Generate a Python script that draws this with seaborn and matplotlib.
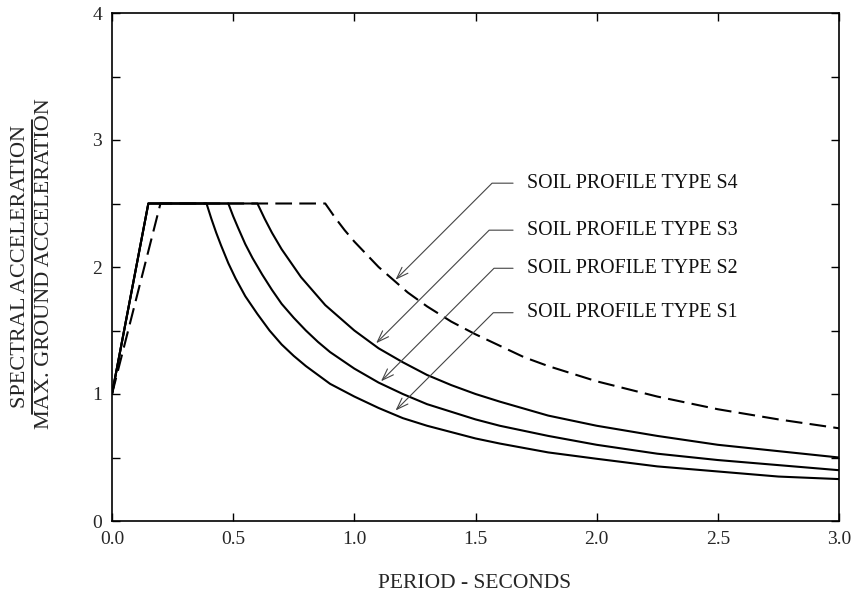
import matplotlib
matplotlib.use("Agg")
import matplotlib.pyplot as plt
import seaborn as sns
import pandas as pd
from matplotlib.lines import Line2D
from matplotlib.ticker import MultipleLocator

# Spectral shapes (period in s, normalised spectral acceleration)
t_s1 = [0.0, 0.15, 0.39, 0.41, 0.43, 0.45, 0.48, 0.51, 0.55, 0.60, 0.65, 0.70, 0.75, 0.80, 0.85, 0.90,
        1.00, 1.10, 1.20, 1.30, 1.40, 1.50, 1.60, 1.80, 2.00, 2.25, 2.50, 2.75, 3.00]
sa_s1 = [1.00, 2.50, 2.50, 2.38, 2.27, 2.17, 2.03, 1.91, 1.77, 1.63, 1.50, 1.39, 1.30, 1.22, 1.15, 1.08,
         0.98, 0.89, 0.81, 0.75, 0.70, 0.65, 0.61, 0.54, 0.49, 0.43, 0.39, 0.35, 0.33]

t_s2 = [0.0, 0.15, 0.48, 0.50, 0.52, 0.55, 0.58, 0.62, 0.66, 0.70, 0.75, 0.80, 0.85, 0.90,
        1.00, 1.10, 1.20, 1.30, 1.40, 1.50, 1.60, 1.80, 2.00, 2.25, 2.50, 2.75, 3.00]
sa_s2 = [1.00, 2.50, 2.50, 2.40, 2.31, 2.18, 2.07, 1.94, 1.82, 1.71, 1.60, 1.50, 1.41, 1.33,
         1.20, 1.09, 1.00, 0.92, 0.86, 0.80, 0.75, 0.67, 0.60, 0.53, 0.48, 0.44, 0.40]

t_s3 = [0.0, 0.15, 0.60, 0.63, 0.66, 0.70, 0.74, 0.78, 0.83, 0.88, 0.94, 1.00, 1.10, 1.20, 1.30,
        1.40, 1.50, 1.60, 1.80, 2.00, 2.25, 2.50, 2.75, 3.00]
sa_s3 = [1.00, 2.50, 2.50, 2.38, 2.27, 2.14, 2.03, 1.92, 1.81, 1.70, 1.60, 1.50, 1.36, 1.25, 1.15,
         1.07, 1.00, 0.94, 0.83, 0.75, 0.67, 0.60, 0.55, 0.50]

t_s4 = [0.0, 0.20, 0.88, 0.92, 0.96, 1.00, 1.05, 1.10, 1.16, 1.22, 1.30, 1.40, 1.50, 1.60, 1.70,
        1.80, 2.00, 2.25, 2.50, 2.75, 3.00]
sa_s4 = [1.00, 2.50, 2.50, 2.39, 2.29, 2.20, 2.10, 2.00, 1.90, 1.80, 1.69, 1.57, 1.47, 1.38, 1.29,
         1.22, 1.10, 0.98, 0.88, 0.80, 0.73]

# callouts: label, label height, arrow tip on the curve
labels = ["SOIL PROFILE TYPE S4", "SOIL PROFILE TYPE S3", "SOIL PROFILE TYPE S2", "SOIL PROFILE TYPE S1"]
label_y = [2.66, 2.29, 1.99, 1.64]
tip_x = [1.17, 1.09, 1.11, 1.17]
tip_y = [1.90, 1.40, 1.10, 0.87]

sns.set_theme(style="ticks")
plt.rcParams["font.family"] = ["Liberation Serif", "DejaVu Serif"]

fig = plt.figure(figsize=(8.51, 5.96), dpi=100, facecolor="white")
ax = fig.add_axes([112 / 851, 75 / 596, 727 / 851, 508 / 596])

curvas = [(t_s1, sa_s1, "S1"), (t_s2, sa_s2, "S2"), (t_s3, sa_s3, "S3"), (t_s4, sa_s4, "S4")]
for t, sa, nome in curvas:
    df = pd.DataFrame({"periodo": t, "sa": sa})
    linha = dict(dashes=(8, 3.5)) if nome == "S4" else {}
    sns.lineplot(data=df, x="periodo", y="sa", color="black", linewidth=1.5,
                 estimator=None, ax=ax, **linha)

for txt, ly, tx, ty in zip(labels, label_y, tip_x, tip_y):
    ax.annotate("", xy=(tx, ty), xytext=(1.655, ly),
                arrowprops=dict(arrowstyle="->,head_length=0.7,head_width=0.25",
                                connectionstyle="angle,angleA=0,angleB=45,rad=0",
                                color="#444444", lw=0.8, shrinkA=0, shrinkB=0))
    ax.text(1.713, ly, txt, fontsize=14.4, va="center", ha="left", color="#111111")

ax.set_xlim(0, 3)
ax.set_ylim(0, 4)
ax.xaxis.set_major_locator(MultipleLocator(0.5))
ax.yaxis.set_major_locator(MultipleLocator(1))
ax.yaxis.set_minor_locator(MultipleLocator(0.5))
ax.set_xticklabels([f"{v:.1f}" for v in ax.get_xticks()])
ax.tick_params(which="both", direction="in", top=True, right=True, length=6,
               width=1.0, color="black", labelsize=14, pad=7)
for s in ax.spines.values():
    s.set_linewidth(1.2)
    s.set_color("black")
ax.set_xlabel("")
ax.set_ylabel("")
ax.grid(False)

fig.text(475 / 851, 1 - 583 / 596, "PERIOD - SECONDS", fontsize=15.5, ha="center", va="center")
fig.text(21 / 851, 1 - 266 / 596, "SPECTRAL ACCELERATION", fontsize=16, rotation=90,
         ha="center", va="center")
fig.text(45 / 851, 1 - 264 / 596, "MAX. GROUND ACCELERATION", fontsize=16, rotation=90,
         ha="center", va="center")
fig.add_artist(Line2D([32 / 851, 32 / 851], [1 - 120 / 596, 1 - 414 / 596],
                      transform=fig.transFigure, color="black", lw=1.2))

fig.savefig("out.png", dpi=100, facecolor="white")
